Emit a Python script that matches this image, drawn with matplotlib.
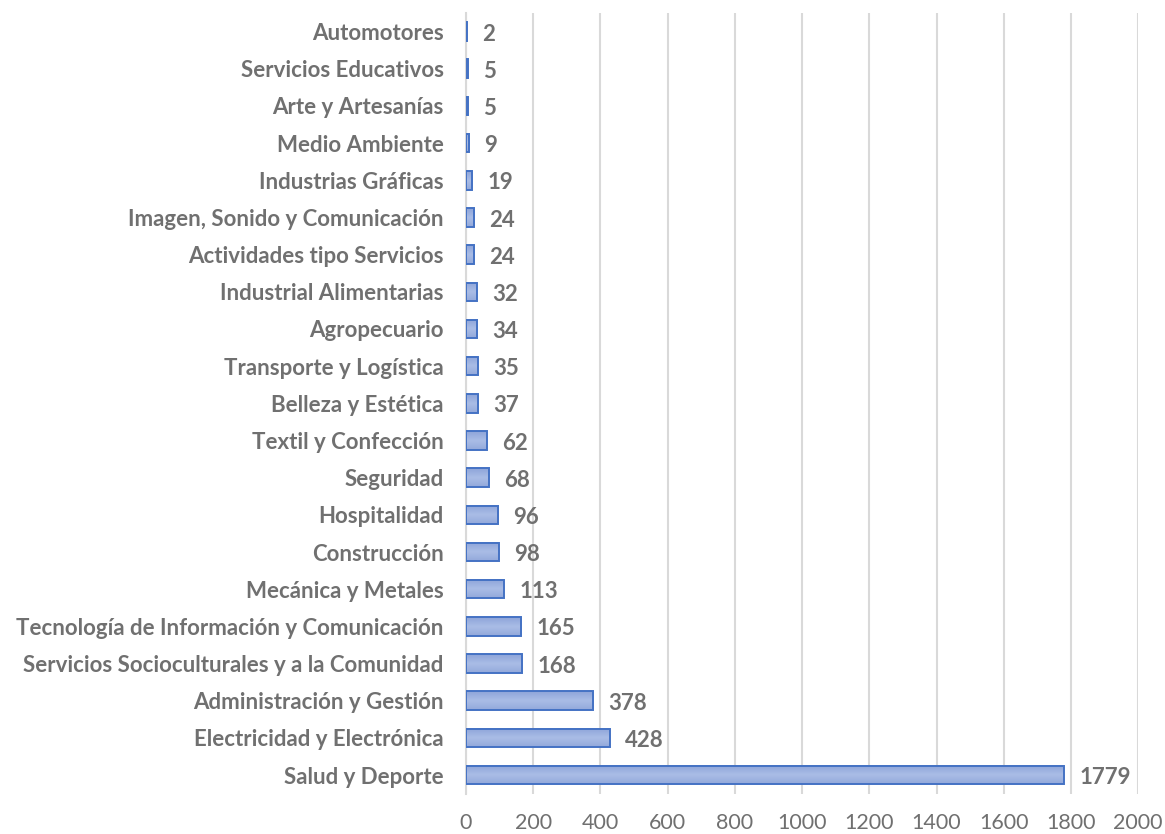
import numpy as np
import matplotlib
matplotlib.use("Agg")
import matplotlib.pyplot as plt
from matplotlib.colors import LinearSegmentedColormap

# Data (top to bottom as shown in the chart)
categories = [
    "Automotores",
    "Servicios Educativos",
    "Arte y Artesanías",
    "Medio Ambiente",
    "Industrias Gráficas",
    "Imagen, Sonido y Comunicación",
    "Actividades tipo Servicios",
    "Industrial Alimentarias",
    "Agropecuario",
    "Transporte y Logística",
    "Belleza y Estética",
    "Textil y Confección",
    "Seguridad",
    "Hospitalidad",
    "Construcción",
    "Mecánica y Metales",
    "Tecnología de Información y Comunicación",
    "Servicios Socioculturales y a la Comunidad",
    "Administración y Gestión",
    "Electricidad y Electrónica",
    "Salud y Deporte",
]
values = [2, 5, 5, 9, 19, 24, 24, 32, 34, 35, 37, 62, 68, 96, 98, 113, 165, 168, 378, 428, 1779]
x_ticks = [0, 200, 400, 600, 800, 1000, 1200, 1400, 1600, 1800, 2000]

plt.rcParams['font.family'] = ['Lato', 'DejaVu Sans']
text_color = "#707070"
edge_color = "#4472C4"

fig = plt.figure(figsize=(11.65, 8.34), dpi=100)
ax = fig.add_axes([0.4, 0.0484, 0.577, 0.936])

n = len(categories)
ypos = np.arange(n)
bar_h = 0.5

# gradient fill like the original bars
grad = LinearSegmentedColormap.from_list("g", ["#8DA4D9", "#AABDE6", "#93A9DB"])
gimg = np.linspace(0, 1, 64).reshape(-1, 1)

bars = ax.barh(ypos, values, height=bar_h, color="none", edgecolor=edge_color,
               linewidth=1.4, zorder=3)
for b in bars:
    x0, y0 = b.get_x(), b.get_y()
    w, h = b.get_width(), b.get_height()
    ax.imshow(gimg, cmap=grad, aspect="auto", extent=[x0, x0 + w, y0 + h, y0],
              zorder=2, interpolation="bicubic")

for y, v in zip(ypos, values):
    ax.text(v + 45, y + 0.07, str(v), va="center", ha="left", fontsize=16,
            fontweight="bold", color=text_color)

ax.set_xlim(0, 2000)
ax.set_ylim(n - 0.5, -0.5)
ax.set_xticks(x_ticks)
ax.set_xticklabels([str(t) for t in x_ticks], fontsize=15.5, color=text_color)
ax.set_yticks(ypos)
ax.set_yticklabels(categories, fontsize=16, fontweight="bold", color=text_color)
ax.tick_params(axis="both", length=0)
ax.tick_params(axis="x", pad=14)
ax.tick_params(axis="y", pad=16)

ax.grid(axis="x", color="#D9D9D9", linewidth=1.5, zorder=0)
ax.set_axisbelow(True)
for s in ["top", "right", "bottom"]:
    ax.spines[s].set_visible(False)
ax.spines["left"].set_color("#D9D9D9")
ax.spines["left"].set_linewidth(1.5)

fig.savefig("out.png", dpi=100)
